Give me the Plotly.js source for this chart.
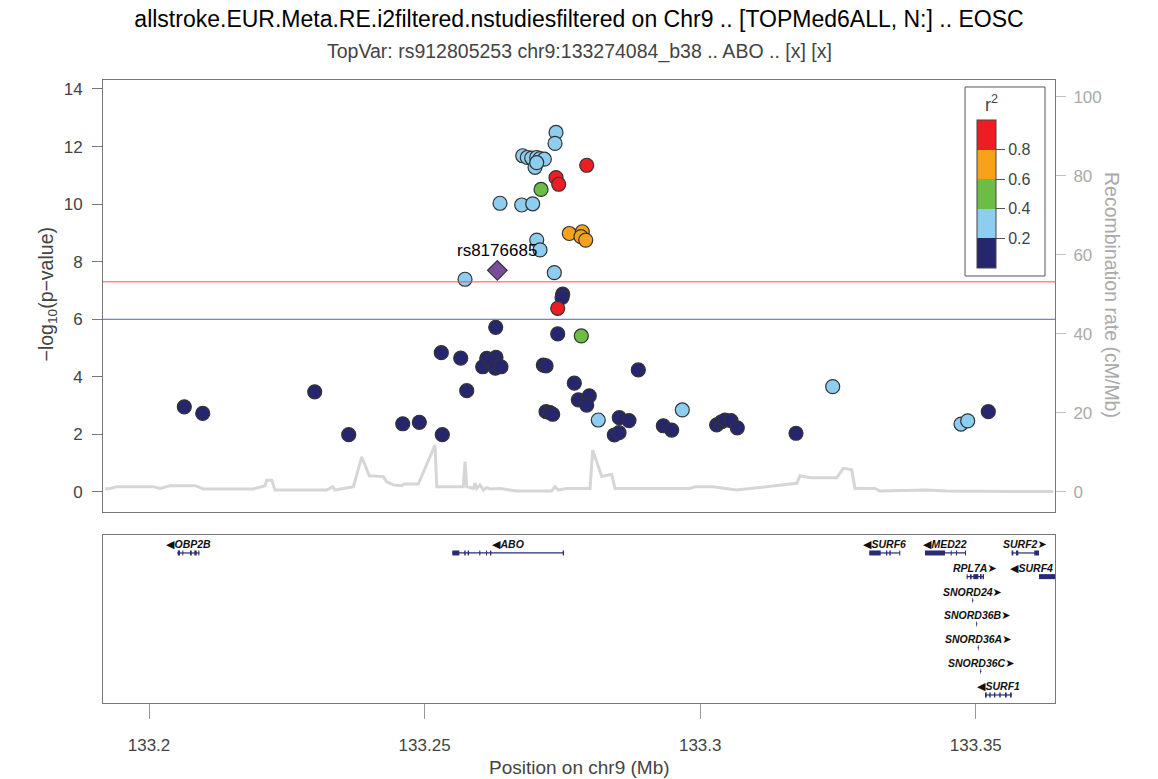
<!DOCTYPE html>
<html><head><meta charset="utf-8">
<script src="https://cdn.plot.ly/plotly-3.0.1.min.js"></script>
<style>html,body{margin:0;padding:0;background:#fff}#chart{width:1158px;height:779px}</style>
</head><body><div id="chart"></div>
<script>
// ---- SNP association data (position in Mb, -log10 p, r2 with lead SNP) ----
const snpPos = [
 133.20640,133.20974,133.23006,133.23623,133.24603,133.24904,133.25321,133.25303,133.25655,133.25764,
 133.26290,133.27415,133.27505,133.27493,133.26127,133.26295,133.26054,133.26205,133.26283,133.26386,
 133.27154,133.27203,133.28877,133.27716,133.27789,133.27988,133.27941,133.27203,133.27275,133.27324,
 133.28532,133.28708,133.28442,133.28527,133.29331,133.29483,133.30299,133.30390,133.30450,133.30559,
 133.30673,133.31738,133.35227,
 133.27384,133.27366,133.26780,133.26863,133.26943,133.27034,133.27094,133.27172,133.27003,133.27034,
 133.26368,133.26762,133.26961,133.27034,133.27094,133.25733,133.27353,133.28151,133.29675,133.32404,
 133.34732,133.34853,
 133.27112,133.27843,
 133.27625,133.27861,133.27837,133.27923,
 133.27941,133.27384,133.27433,133.27415
];
const snpLogP = [
 2.96,2.73,3.48,1.99,2.37,2.42,1.99,4.84,4.65,3.52,
 5.72,5.49,6.87,6.76,4.64,4.68,4.35,4.53,4.30,4.35,
 4.41,4.38,4.24,3.78,3.20,3.34,3.02,2.79,2.76,2.70,
 2.58,2.48,1.98,2.06,2.30,2.15,2.33,2.44,2.50,2.48,
 2.23,2.04,2.79,
 12.49,12.11,11.68,11.62,11.60,11.62,11.58,11.56,11.28,11.44,
 10.03,9.97,10.01,8.75,8.41,7.39,7.62,2.50,2.85,3.66,
 2.36,2.47,
 10.51,5.42,
 8.98,9.04,8.87,8.75,
 11.35,10.92,10.69,6.38
];
const snpR2 = [
 0.1,0.1,0.1,0.1,0.1,0.1,0.1,0.1,0.1,0.1,
 0.1,0.1,0.1,0.1,0.1,0.1,0.1,0.1,0.1,0.1,
 0.1,0.1,0.1,0.1,0.1,0.1,0.1,0.1,0.1,0.1,
 0.1,0.1,0.1,0.1,0.1,0.1,0.1,0.1,0.1,0.1,
 0.1,0.1,0.1,
 0.3,0.3,0.3,0.3,0.3,0.3,0.3,0.3,0.3,0.3,
 0.3,0.3,0.3,0.3,0.3,0.3,0.3,0.3,0.3,0.3,
 0.3,0.3,
 0.5,0.5,
 0.7,0.7,0.7,0.7,
 0.9,0.9,0.9,0.9
];
const leadName = ['rs8176685'];
const leadPos = [133.26319];
const leadLogP = [7.70];

// ---- Recombination rate (cM/Mb) ----
const recPos = [133.19202,133.19292,133.19414,133.20078,133.20200,133.20381,133.20835,133.20985,133.21892,133.22105,
 133.22135,133.22226,133.22286,133.23224,133.23333,133.23374,133.23707,133.23859,133.23997,133.24251,
 133.24312,133.24432,133.24585,133.24626,133.24886,133.25189,133.25220,133.25702,133.25733,133.25764,
 133.25884,133.25914,133.25945,133.26005,133.26065,133.26127,133.26187,133.26368,133.26671,133.27306,
 133.27366,133.27426,133.27578,133.28001,133.28050,133.28213,133.28394,133.28454,133.29815,133.29906,
 133.30238,133.30662,133.31751,133.31811,133.31992,133.32477,133.32596,133.32749,133.32808,133.33171,
 133.33262,133.34109,133.34472,133.36406];
const recRate = [0.76,0.9,1.35,1.35,0.9,1.6,1.6,0.76,0.76,1.6,
 3.0,3.0,0.5,0.5,1.35,0.5,1.35,8.9,4.1,3.9,
 2.6,1.8,1.6,2.0,2.0,11.9,1.35,1.35,7.7,1.35,
 0.9,2.2,0.9,1.8,0.5,1.1,0.76,0.9,0.25,0.25,
 1.35,0.5,0.9,0.9,10.6,3.9,4.5,0.9,0.9,1.35,
 1.35,0.5,2.2,4.1,3.6,3.6,6.0,5.6,0.9,0.9,
 0.25,0.5,0.25,0.1];

// ---- Genes ----
const geneNames = ['OBP2B','ABO','SURF6','MED22','SURF2','RPL7A','SURF4','SNORD24','SNORD36B','SNORD36A','SNORD36C','SURF1'];
const geneStart = [133.20513,133.25503,133.33068,133.34078,133.35651,133.34835,133.36147,133.34932,133.35004,133.35033,133.35077,133.35167];
const geneEnd   = [133.20913,133.27524,133.33625,133.34822,133.36147,133.35149,133.37200,133.34956,133.35028,133.35057,133.35101,133.35651];
const geneStrand = ['-','-','-','-','+','+','-','+','+','+','+','-'];
const geneRow = [0,0,0,0,0,1,1,2,3,4,5,6];
const geneExons = [
 [[133.20521,133.20562],[133.20604,133.20622],[133.20744,133.20775],[133.20822,133.20865],[133.20894,133.20913]],
 [[133.25503,133.25630],[133.25720,133.25745],[133.25782,133.25806],[133.25992,133.26011],[133.26114,133.26132],[133.26187,133.26210],[133.27506,133.27529]],
 [[133.33068,133.33275],[133.33371,133.33394],[133.33431,133.33456],[133.33612,133.33630]],
 [[133.34078,133.34441],[133.34545,133.34563],[133.34641,133.34659],[133.34804,133.34822]],
 [[133.35651,133.35680],[133.35730,133.35771],[133.36061,133.36147]],
 [[133.34835,133.34853],[133.34895,133.34926],[133.34955,133.35046],[133.35076,133.35107],[133.35125,133.35149]],
 [[133.36147,133.36500]],
 [[133.34938,133.34950]],
 [[133.35010,133.35022]],
 [[133.35039,133.35051]],
 [[133.35083,133.35095]],
 [[133.35167,133.35198],[133.35245,133.35270],[133.35330,133.35354],[133.35426,133.35452],[133.35530,133.35561],[133.35621,133.35651]]
];

// ---- Axes / labels ----
const xRange = [133.19165, 133.36437];
const xTickVals = [133.2, 133.25, 133.3, 133.35];
const xTickText = ['133.2', '133.25', '133.3', '133.35'];
const yTickVals = [0, 2, 4, 6, 8, 10, 12, 14];
const y2TickVals = [0, 20, 40, 60, 80, 100];
const r2TickVals = [0.2, 0.4, 0.6, 0.8];
const r2TickText = ['0.2', '0.4', '0.6', '0.8'];
const sigLine = 7.3;
const sugLine = 6;

const NAVY = '#26266e', LBLUE = '#8ccdf0', GREEN = '#6bbd45', ORANGE = '#f8a11b', RED = '#ee1d24';
const r2Scale = [[0,NAVY],[0.2,NAVY],[0.2,LBLUE],[0.4,LBLUE],[0.4,GREEN],[0.6,GREEN],[0.6,ORANGE],[0.8,ORANGE],[0.8,RED],[1,RED]];
const FONT = 'Liberation Sans, Arial, sans-serif';

const mainDom = [0.3066, 1];
const geneDom = [0, 0.2697];

const traces = [];
traces.push({
  x: recPos, y: recRate, xaxis: 'x', yaxis: 'y2', type: 'scatter', mode: 'lines',
  line: {color: '#d6d6d6', width: 3}, hoverinfo: 'skip'
});

const idx = snpPos.map((_, i) => i).sort((a, b) => snpR2[a] - snpR2[b]);
traces.push({
  x: idx.map(i => snpPos[i]), y: idx.map(i => snpLogP[i]),
  xaxis: 'x', yaxis: 'y', type: 'scatter', mode: 'markers',
  marker: {
    size: 14, color: idx.map(i => snpR2[i]), colorscale: r2Scale, cmin: 0, cmax: 1,
    line: {color: '#333', width: 1.2},
    showscale: true,
    colorbar: {
      x: 0.918, xanchor: 'left', xpad: 0, y: 0.9358, yanchor: 'top', ypad: 0,
      thickness: 19, thicknessmode: 'pixels', len: 148, lenmode: 'pixels',
      outlinecolor: '#444', outlinewidth: 1, borderwidth: 0,
      tickvals: r2TickVals, ticktext: r2TickText, ticks: 'outside', ticklen: 9, tickwidth: 1, tickcolor: '#555',
      tickfont: {family: FONT, size: 16, color: '#444'}
    }
  },
  hoverinfo: 'x+y'
});
traces.push({
  x: leadPos, y: leadLogP, xaxis: 'x', yaxis: 'y', type: 'scatter', mode: 'markers',
  marker: {symbol: 'diamond', size: 15, color: '#7a4d9c', line: {color: '#333', width: 1.2}}
});

const bodyX = [], bodyY = [], exX = [], exY = [];
geneNames.forEach((g, i) => {
  bodyX.push(geneStart[i], geneEnd[i], null);
  bodyY.push(-geneRow[i], -geneRow[i], null);
  geneExons[i].forEach(e => { exX.push(e[0], e[1], null); exY.push(-geneRow[i], -geneRow[i], null); });
});
traces.push({x: bodyX, y: bodyY, xaxis: 'x2', yaxis: 'y3', type: 'scatter', mode: 'lines',
  line: {color: '#2a2a78', width: 1.2}, hoverinfo: 'skip'});
traces.push({x: exX, y: exY, xaxis: 'x2', yaxis: 'y3', type: 'scatter', mode: 'lines',
  line: {color: '#2a2a78', width: 5}, hoverinfo: 'skip'});

const annotations = [];
const arrowL = '<span style="font-family:DejaVu Sans;font-size:11px">\u25C0</span>';
const arrowR = '<span style="font-family:DejaVu Sans;font-size:11px">\u27A4</span>';
geneNames.forEach((g, i) => {
  const label = geneStrand[i] === '-' ? arrowL + '<i>' + g + '</i>' : '<i>' + g + '</i>' + arrowR;
  let x = (geneStart[i] + geneEnd[i]) / 2, xanchor = 'center';
  if (geneEnd[i] > xRange[1]) { x = xRange[1]; xanchor = 'right'; }
  annotations.push({
    xref: 'x2', yref: 'y3', x: x, y: -geneRow[i], yshift: 8, xanchor: xanchor, yanchor: 'middle',
    text: '<b>' + label + '</b>', showarrow: false,
    font: {family: FONT, size: 10.5, color: '#111'}
  });
});
annotations.push({xref: 'x', yref: 'y', x: leadPos[0], y: leadLogP[0], yshift: 20, text: leadName[0],
  showarrow: false, font: {family: FONT, size: 17, color: '#000'}});
annotations.push({xref: 'paper', yref: 'paper', x: -0.0735, y: 0.655, textangle: -90,
  text: '\u2212log<sub>10</sub>(p\u2212value)', showarrow: false, font: {family: FONT, size: 19.5, color: '#444'}});
annotations.push({xref: 'paper', yref: 'paper', x: 1.0735, y: 0.655, textangle: 90,
  text: 'Recombination rate (cM/Mb)', showarrow: false, font: {family: FONT, size: 19.5, color: '#aaa'}});
annotations.push({xref: 'paper', yref: 'paper', x: 0.5, y: -0.1043, yanchor: 'middle',
  text: 'Position on chr9 (Mb)', showarrow: false, font: {family: FONT, size: 19, color: '#444'}});
annotations.push({xref: 'paper', yref: 'paper', x: 0.5, y: 1.045, yanchor: 'middle',
  text: 'TopVar: rs912805253 chr9:133274084_b38 .. ABO .. [x] [x]', showarrow: false,
  font: {family: FONT, size: 19.5, color: '#444'}});
annotations.push({xref: 'paper', yref: 'paper', x: 0.9422, y: 0.962, yanchor: 'middle',
  text: 'r<sup>2</sup>', showarrow: false, font: {family: FONT, size: 18, color: '#444'}});

const shapes = [
  {type: 'line', xref: 'paper', yref: 'y', x0: 0, x1: 1, y0: sigLine, y1: sigLine, line: {color: '#ff4a4a', width: 1}},
  {type: 'line', xref: 'paper', yref: 'y', x0: 0, x1: 1, y0: sugLine, y1: sugLine, line: {color: '#5364a8', width: 1}},
  {type: 'rect', xref: 'paper', yref: 'paper', x0: 0.9055, x1: 0.9895, y0: 0.6854, y1: 0.9888,
   line: {color: '#555', width: 1}, fillcolor: 'rgba(255,255,255,0)', layer: 'above'}
];

const layout = {
  width: 1158, height: 779,
  margin: {l: 103, r: 103, t: 80, b: 76},
  paper_bgcolor: '#fff', plot_bgcolor: '#fff',
  showlegend: false,
  font: {family: FONT, color: '#444'},
  title: {text: 'allstroke.EUR.Meta.RE.i2filtered.nstudiesfiltered on Chr9 .. [TOPMed6ALL, N:] .. EOSC',
    xref: 'container', x: 0.5, y: 1 - 19/779, yref: 'container', yanchor: 'middle',
    font: {family: FONT, size: 23, color: '#000'}},
  xaxis: {domain: [0, 1], anchor: 'y', range: xRange, showticklabels: false, ticks: '',
    showline: true, mirror: true, linecolor: '#777', linewidth: 1, showgrid: false, zeroline: false},
  yaxis: {domain: mainDom, anchor: 'x', range: [-0.695, 14.312], tickvals: yTickVals,
    ticks: 'outside', ticklen: 10, tickcolor: '#777', ticklabelstandoff: 6,
    tickfont: {family: FONT, size: 17, color: '#444'},
    showline: true, mirror: true, linecolor: '#777', linewidth: 1, showgrid: false, zeroline: false},
  yaxis2: {overlaying: 'y', side: 'right', anchor: 'x', range: [-5.063, 104.3], tickvals: y2TickVals,
    ticks: 'outside', ticklen: 10, tickcolor: '#c0c0c0', ticklabelstandoff: 4,
    tickfont: {family: FONT, size: 17, color: '#aaa'},
    showline: false, showgrid: false, zeroline: false},
  xaxis2: {domain: [0, 1], anchor: 'y3', range: xRange, tickvals: xTickVals, ticktext: xTickText,
    ticks: 'outside', ticklen: 15, tickcolor: '#999', ticklabelstandoff: 12,
    tickfont: {family: FONT, size: 17, color: '#444'},
    showline: true, mirror: true, linecolor: '#777', linewidth: 1, showgrid: false, zeroline: false},
  yaxis3: {domain: geneDom, anchor: 'x2', range: [-6.34, 0.76], showticklabels: false, ticks: '',
    showline: true, mirror: true, linecolor: '#777', linewidth: 1, showgrid: false, zeroline: false},
  annotations: annotations,
  shapes: shapes
};

Plotly.newPlot('chart', traces, layout, {displayModeBar: false, staticPlot: true});
</script></body></html>
